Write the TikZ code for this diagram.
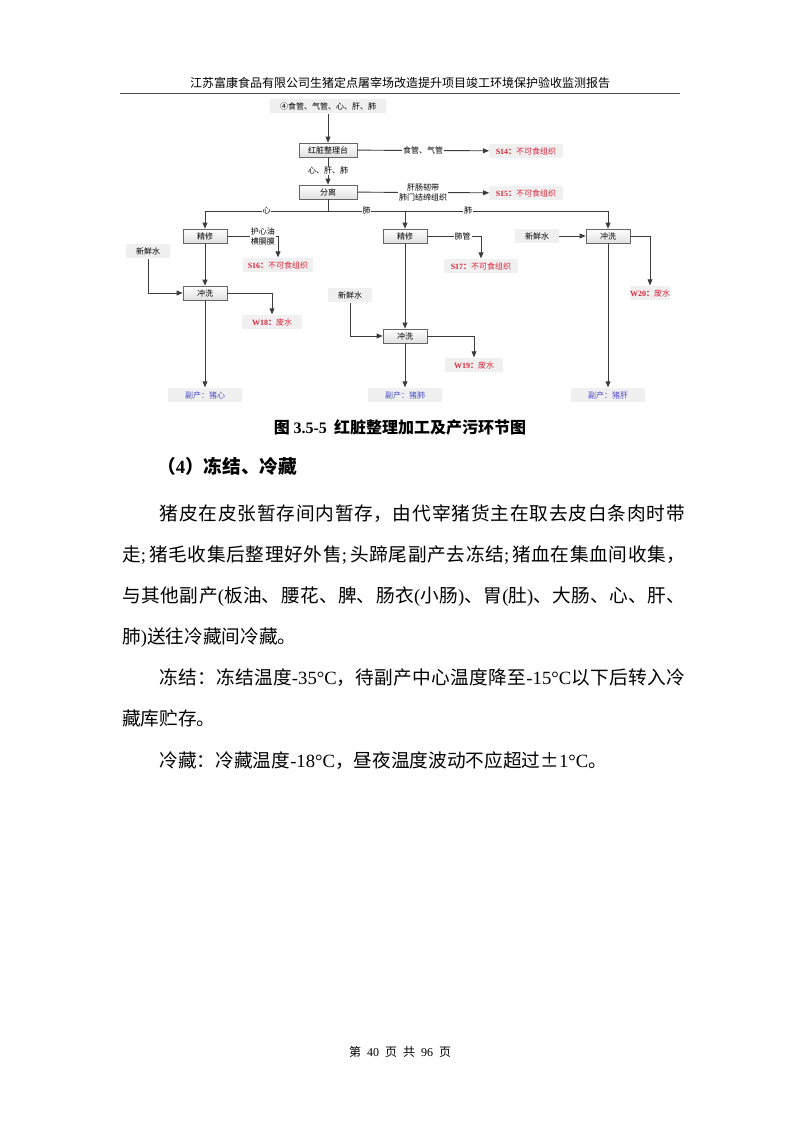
\documentclass[tikz,border=0pt]{standalone}
\usepackage{fontspec}
\setmainfont{Noto Sans CJK SC}
\newfontfamily\tnr{Liberation Serif}
\usetikzlibrary{arrows.meta,positioning}

\XeTeXlinebreaklocale "zh"
\XeTeXlinebreakskip=0pt plus 1pt

\definecolor{lossred}{HTML}{D9263A}
\definecolor{prodblue}{HTML}{4F4FC9}
\definecolor{edgegray}{HTML}{3C3C3C}
\newcommand\lat[1]{{\tnr #1}}

\begin{document}
\begin{tikzpicture}[
    x=0.75pt, y=-0.75pt,
    box/.style={draw=black!60, top color=white, bottom color=black!12, minimum width=33pt, minimum height=10.5pt, inner sep=0pt, font=\fontsize{6pt}{7pt}\selectfont},
    soft/.style={fill=black!6, minimum width=33pt, minimum height=11pt, inner sep=0pt, font=\fontsize{6pt}{7pt}\selectfont},
    loss/.style={soft, text=lossred},
    prod/.style={soft, text=prodblue, minimum width=55pt},
    tag/.style={fill=white, inner sep=0.6pt, align=center, font=\fontsize{6pt}{7.5pt}\selectfont},
    link/.style={-{Triangle[length=4.5pt,width=3.6pt]}, draw=edgegray, line width=0.7pt},
    para/.style={anchor=base west, text width=422pt, align=justify, inner sep=0pt, font=\fontsize{14pt}{30.9pt}\selectfont}
]
\useasboundingbox (0,0) rectangle (800,1131);
\fill[white] (0,0) rectangle (800,1131);

% page head
\node[font=\fontsize{9pt}{10pt}\selectfont] (head) at (400,83) {江苏富康食品有限公司生猪定点屠宰场改造提升项目竣工环境保护验收监测报告};
\draw[black!70, line width=0.6pt] (120,93) -- (680,93);

% main line
\node[soft, minimum width=87pt] (src) at (328,106) {④食管、气管、心、肝、肺};
\node[box, minimum width=43.5pt] (trim) at (328,150) {红脏整理台};
\node[box, minimum width=43.5pt] (sep) at (328,192) {分离};
\node[loss, minimum width=55pt] (s14) at (526,151) {\textbf{\lat{S14}：}不可食组织};
\node[loss, minimum width=55pt] (s15) at (526,193) {\textbf{\lat{S15}：}不可食组织};
\coordinate (split) at (328,211);

% heart
\node[box] (fineL) at (205,236) {精修};
\node[loss, minimum width=52pt] (s16) at (278,265) {\textbf{\lat{S16}：}不可食组织};
\node[soft] (waterL) at (148,251) {新鲜水};
\node[box] (washL) at (205,293) {冲洗};
\node[loss, minimum width=45pt] (w18) at (272,322) {\textbf{\lat{W18}：}废水};
\node[prod] (heart) at (205,395) {副产：猪心};

% lung
\node[box] (fineM) at (405,236) {精修};
\node[loss, minimum width=55pt] (s17) at (481,266) {\textbf{\lat{S17}：}不可食组织};
\node[soft] (waterM) at (350,295) {新鲜水};
\node[box] (washM) at (405,336) {冲洗};
\node[loss, minimum width=44pt] (w19) at (474,365) {\textbf{\lat{W19}：}废水};
\node[prod] (lung) at (405,395) {副产：猪肺};

% liver
\node[soft] (waterR) at (537,236) {新鲜水};
\node[box] (washR) at (608,236) {冲洗};
\node[loss, minimum width=30pt] (w20) at (650,293) {\textbf{\lat{W20}：}废水};
\node[prod] (liver) at (608,395) {副产：猪肝};

\draw[link] (src) -- (trim);
\draw[link] (trim) -- node[tag] {食管、气管} (s14);
\draw[link] (trim) -- node[tag] {心、肝、肺} (sep);
\draw[link] (sep) -- node[tag] {肝肠韧带\\肺门结缔组织} (s15);
\draw[edgegray, line width=0.7pt] (sep) -- (split);
\draw[link] (split) -| node[tag, pos=0.25] {肺} (washR.north);
\draw[link] (split) -| node[tag, pos=0.25] {肺} (fineM.north);
\draw[link] (split) -| node[tag, pos=0.25] {心} (fineL.north);

\draw[link] (fineL) -| node[tag, pos=0.35] {护心油\\横膈膜} (s16.north);
\draw[link] (fineL) -- (washL);
\draw[link] (waterL) |- (washL);
\draw[link] (washL) -| (w18.north);
\draw[link] (washL) -- (heart);

\draw[link] (fineM) -| node[tag, pos=0.33] {肺管} (s17.north);
\draw[link] (fineM) -- (washM);
\draw[link] (waterM) |- (washM);
\draw[link] (washM) -| (w19.north);
\draw[link] (washM) -- (lung);

\draw[link] (waterR) -- (washR);
\draw[link] (washR) -| (w20.north);
\draw[link] (washR) -- (liver);

% text below the figure
\node[font=\bfseries\fontsize{12pt}{14pt}\selectfont] (caption) at (400,427) {图 \lat{3.5-5}\ \ 红脏整理加工及产污环节图};
\node[anchor=base west, inner sep=0pt, font=\bfseries\fontsize{14pt}{16pt}\selectfont] (heading) at (157,473) {（\lat{4}）冻结、冷藏};

\node[para] (para1) at (122,520) {\hspace*{2em}猪皮在皮张暂存间内暂存，由代宰猪货主在取去皮白条肉时带\linebreak 走\lat{;}\,猪毛收集后整理好外售\lat{;}\,头蹄尾副产去冻结\lat{;}\,猪血在集血间收集，\linebreak 与其他副产\lat{(}板油、腰花、脾、肠衣\lat{(}小肠\lat{)}、胃\lat{(}肚\lat{)}、大肠、心、肝、\linebreak 肺\lat{)}送往冷藏间冷藏。};
\node[para] (para2) at (122,684) {\hspace*{2em}冻结：冻结温度\lat{-35°C}，待副产中心温度降至\lat{-15°C}以下后转入冷\linebreak 藏库贮存。};
\node[para] (para3) at (122,767) {\hspace*{2em}冷藏：冷藏温度\lat{-18°C}，昼夜温度波动不应超过±\lat{1°C}。};

% page foot
\node[font=\fontsize{9pt}{10pt}\selectfont] (foot) at (400,1052) {第\hspace{0.5em}\lat{40}\hspace{0.5em}页\hspace{0.5em}共\hspace{0.5em}\lat{96}\hspace{0.5em}页};
\end{tikzpicture}
\end{document}
